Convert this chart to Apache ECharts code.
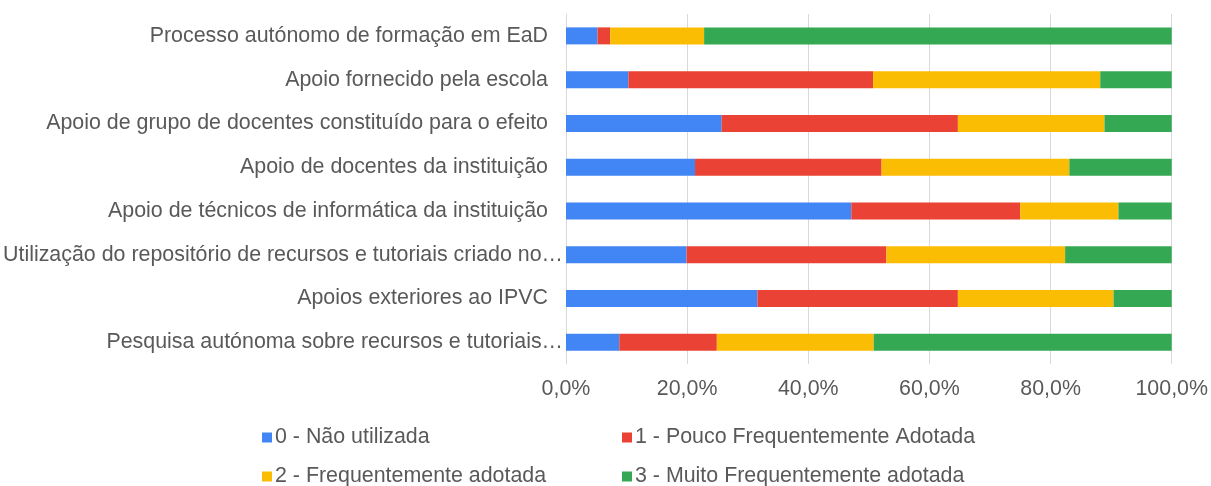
<!DOCTYPE html>
<html>
<head>
<meta charset="utf-8">
<script src="https://cdn.jsdelivr.net/npm/echarts@6/dist/echarts.min.js"></script>
<style>
  html, body { margin: 0; padding: 0; background: #fff; }
  #chart { width: 1211px; height: 486px; }
</style>
</head>
<body>
<div id="chart"></div>
<script>
// categorias (de cima para baixo)
var categorias = [
  'Processo autónomo de formação em EaD',
  'Apoio fornecido pela escola',
  'Apoio de grupo de docentes constituído para o efeito',
  'Apoio de docentes da instituição',
  'Apoio de técnicos de informática da instituição',
  'Utilização do repositório de recursos e tutoriais criado no…',
  'Apoios exteriores ao IPVC',
  'Pesquisa autónoma sobre recursos e tutoriais…'
]
var nomesSeries = [
  '0 - Não utilizada',
  '1 - Pouco Frequentemente Adotada',
  '2 - Frequentemente adotada',
  '3 - Muito Frequentemente adotada'
]
// valores em %
var naoUtilizada = [5.2, 10.3, 25.7, 21.3, 47.1, 19.9, 31.6, 8.8]
var poucoFreq = [2.1, 40.4, 39.0, 30.8, 27.9, 33.0, 33.1, 16.1]
var frequente = [15.5, 37.5, 24.2, 31.0, 16.2, 29.5, 25.7, 25.9]
var muitoFreq = [77.2, 11.8, 11.1, 16.9, 8.8, 17.6, 9.6, 49.2]
var cores = ['#4285F4', '#EA4335', '#FBBC04', '#34A853']

var fonte = "'Liberation Sans', Arial, sans-serif"
var cinza = '#595959'
var tam = 21.4

var chart = echarts.init(document.getElementById('chart'))

function legenda (i, left, top) {
  return {
    data: [nomesSeries[i]],
    left: left,
    top: top,
    itemWidth: 10,
    itemHeight: 10,
    itemGap: 0,
    icon: 'rect',
    padding: 0,
    textStyle: { fontFamily: fonte, fontSize: tam, color: cinza, padding: [0, 0, 0, -2] }
  }
}

var valores = [naoUtilizada, poucoFreq, frequente, muitoFreq]

chart.setOption({
  animation: false,
  color: cores,
  legend: [
    legenda(0, 262, 427),
    legenda(1, 622, 427),
    legenda(2, 262, 466),
    legenda(3, 622, 466)
  ],
  grid: { left: 566, right: 39, top: 14, bottom: 122, containLabel: false },
  xAxis: {
    type: 'value',
    min: 0,
    max: 100,
    interval: 20,
    axisLine: { show: false },
    axisTick: { show: false },
    splitLine: { lineStyle: { color: '#d9d9d9', width: 1 } },
    axisLabel: {
      margin: 15,
      fontFamily: fonte,
      fontSize: tam,
      color: cinza,
      formatter: function (v) { return v.toFixed(1).replace('.', ',') + '%' }
    }
  },
  yAxis: {
    type: 'category',
    inverse: true,
    data: categorias,
    axisLine: { show: true, lineStyle: { color: '#d9d9d9', width: 1 } },
    axisTick: { show: false },
    axisLabel: {
      margin: 3,
      fontFamily: fonte,
      fontSize: tam,
      color: cinza,
      formatter: function (v) {
        return v.slice(-1) === '…' ? '{e|' + v + '}' : '{n|' + v + '}'
      },
      rich: {
        n: { fontFamily: fonte, fontSize: tam, color: cinza, padding: [0, 15, 0, 0] },
        e: { fontFamily: fonte, fontSize: tam, color: cinza }
      }
    }
  },
  series: nomesSeries.map(function (nome, i) {
    return {
      name: nome,
      type: 'bar',
      stack: 'total',
      barWidth: 17,
      data: valores[i]
    }
  })
})
</script>
</body>
</html>
